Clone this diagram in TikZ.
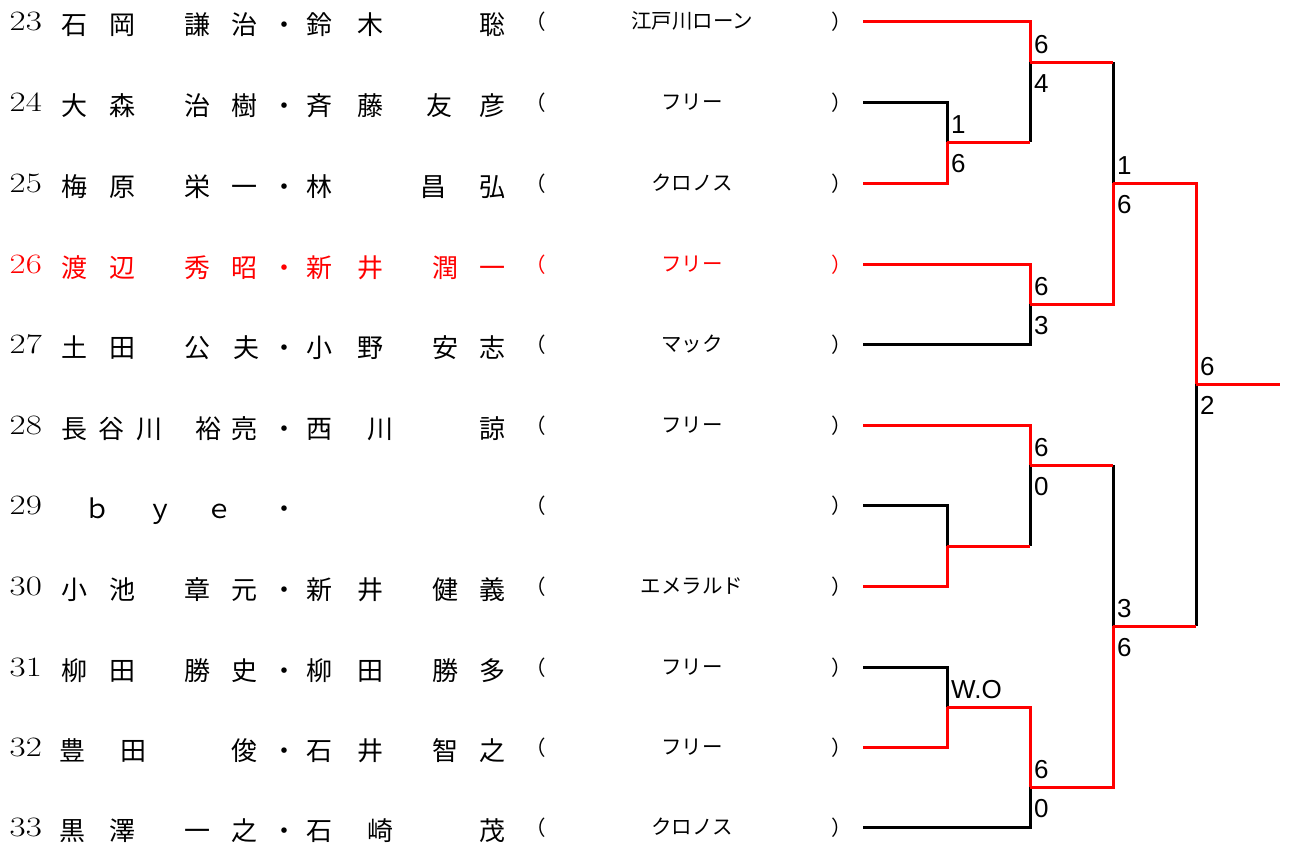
\documentclass[tikz,border=0pt]{standalone}
\usepackage{fontspec}
\newfontfamily\jp{Noto Sans CJK JP}
\newfontfamily\lab{Liberation Sans}
\usetikzlibrary{calc}
\tikzset{
  win/.style={draw=red, line width=3pt, line join=miter},
  lose/.style={draw=black, line width=3pt, line join=miter},
  num/.style={inner sep=0pt, anchor=base west, font=\fontsize{28}{28}\selectfont},
  nm/.style={inner sep=0pt, anchor=base, font=\jp\fontsize{26}{26}\selectfont},
  club/.style={inner sep=0pt, anchor=base, font=\jp\fontsize{20.5}{20.5}\selectfont},
  score/.style={inner sep=0pt, anchor=base west, font=\lab\fontsize{26}{26}\selectfont},
}
\newcommand\entrow[5]{%
  \node[num, text=#3] (n#1) at (9.5,#2+9) {\scalebox{1.25}[1]{#1}};
  \foreach \xx/\ch [count=\k] in {#4} {\node[nm, text=#3] (c#1-\k) at (\xx,#2+13) {\ch};}
  \node[club, text=#3] (lp#1) at (536,#2+8) {（};
  \node[club, text=#3] (cl#1) at (692,#2+7) {#5};
  \node[club, text=#3] (rp#1) at (842,#2+8) {）};
  \coordinate (p#1) at (863,#2);
}
\begin{document}
\begin{tikzpicture}[x=1pt,y=-1pt]
\useasboundingbox (0,0) rectangle (1295,844);
\entrow{23}{21}{black}{74/石,122/岡,197/謙,244/治,284/・,319/鈴,370/木,492/聡}{江戸川ローン}
\entrow{24}{102}{black}{74/大,122/森,197/治,244/樹,284/・,319/斉,370/藤,439/友,492/彦}{フリー}
\entrow{25}{183}{black}{74/梅,122/原,197/栄,244/一,284/・,319/林,433/昌,492/弘}{クロノス}
\entrow{26}{264}{red}{74/渡,122/辺,197/秀,244/昭,284/・,319/新,370/井,445/潤,492/一}{フリー}
\entrow{27}{344}{black}{74/土,122/田,197/公,246/夫,284/・,319/小,370/野,445/安,492/志}{マック}
\entrow{28}{425}{black}{74/長,111/谷,149/川,208/裕,244/亮,284/・,319/西,380/川,492/諒}{フリー}
\entrow{29}{505}{black}{97/ｂ,160/ｙ,219/ｅ,284/・}{}
\entrow{30}{586}{black}{74/小,122/池,197/章,244/元,284/・,319/新,370/井,445/健,492/義}{エメラルド}
\entrow{31}{667}{black}{74/柳,122/田,197/勝,244/史,284/・,319/柳,370/田,445/勝,492/多}{フリー}
\entrow{32}{747}{black}{72/豊,133/田,244/俊,284/・,319/石,370/井,445/智,492/之}{フリー}
\entrow{33}{827}{black}{72/黒,122/澤,197/一,244/之,284/・,319/石,380/崎,492/茂}{クロノス}
% match points
\coordinate (m1) at (947,142);
\coordinate (m2) at (1030,62);
\coordinate (m3) at (1030,304);
\coordinate (m4) at (1113,183);
\coordinate (m5) at (947,546);
\coordinate (m6) at (1030,465);
\coordinate (m7) at (947,707);
\coordinate (m8) at (1030,787);
\coordinate (m9) at (1113,626);
\coordinate (m10) at (1196,384);
\coordinate (fin) at (1280,384);
% losing branches
\draw[lose] (p24) -| (m1);
\draw[lose] (m1 -| m2) -- (m2);
\draw[lose] (m2 -| m4) -- (m4);
\draw[lose] (p27) -| (m3);
\draw[lose] (p29) -| (m5);
\draw[lose] (m5 -| m6) -- (m6);
\draw[lose] (m6 -| m9) -- (m9);
\draw[lose] (p31) -| (m7);
\draw[lose] (p33) -| (m8);
\draw[lose] (m9 -| m10) -- (m10);
% winning branches
\draw[win] (p23) -| (m2);
\draw[win] (p25) -| (m1);
\draw[win] (m1) -- (m1 -| m2);
\draw[win] (m2) -- (m2 -| m4);
\draw[win] (p26) -| (m3);
\draw[win] (m3) -| (m4);
\draw[win] (m4) -| (m10);
\draw[win] (p28) -| (m6);
\draw[win] (p30) -| (m5);
\draw[win] (m5) -- (m5 -| m6);
\draw[win] (m6) -- (m6 -| m9);
\draw[win] (p32) -| (m7);
\draw[win] (m7) -| (m8);
\draw[win] (m8) -| (m9);
\draw[win] (m9) -- (m9 -| m10);
\draw[win] (m10) -- (fin);
% scores
\node[score] (s1t) at ($(m1)+(4,-9)$) {1};
\node[score] (s1b) at ($(m1)+(4,30)$) {6};
\node[score] (s2t) at ($(m2)+(4,-9)$) {6};
\node[score] (s2b) at ($(m2)+(4,30)$) {4};
\node[score] (s3t) at ($(m3)+(4,-9)$) {6};
\node[score] (s3b) at ($(m3)+(4,30)$) {3};
\node[score] (s4t) at ($(m4)+(4,-9)$) {1};
\node[score] (s4b) at ($(m4)+(4,30)$) {6};
\node[score] (s6t) at ($(m6)+(4,-9)$) {6};
\node[score] (s6b) at ($(m6)+(4,30)$) {0};
\node[score] (s7t) at ($(m7)+(4,-9)$) {W.O};
\node[score] (s8t) at ($(m8)+(4,-9)$) {6};
\node[score] (s8b) at ($(m8)+(4,30)$) {0};
\node[score] (s9t) at ($(m9)+(4,-9)$) {3};
\node[score] (s9b) at ($(m9)+(4,30)$) {6};
\node[score] (s10t) at ($(m10)+(4,-9)$) {6};
\node[score] (s10b) at ($(m10)+(4,30)$) {2};
\end{tikzpicture}
\end{document}
